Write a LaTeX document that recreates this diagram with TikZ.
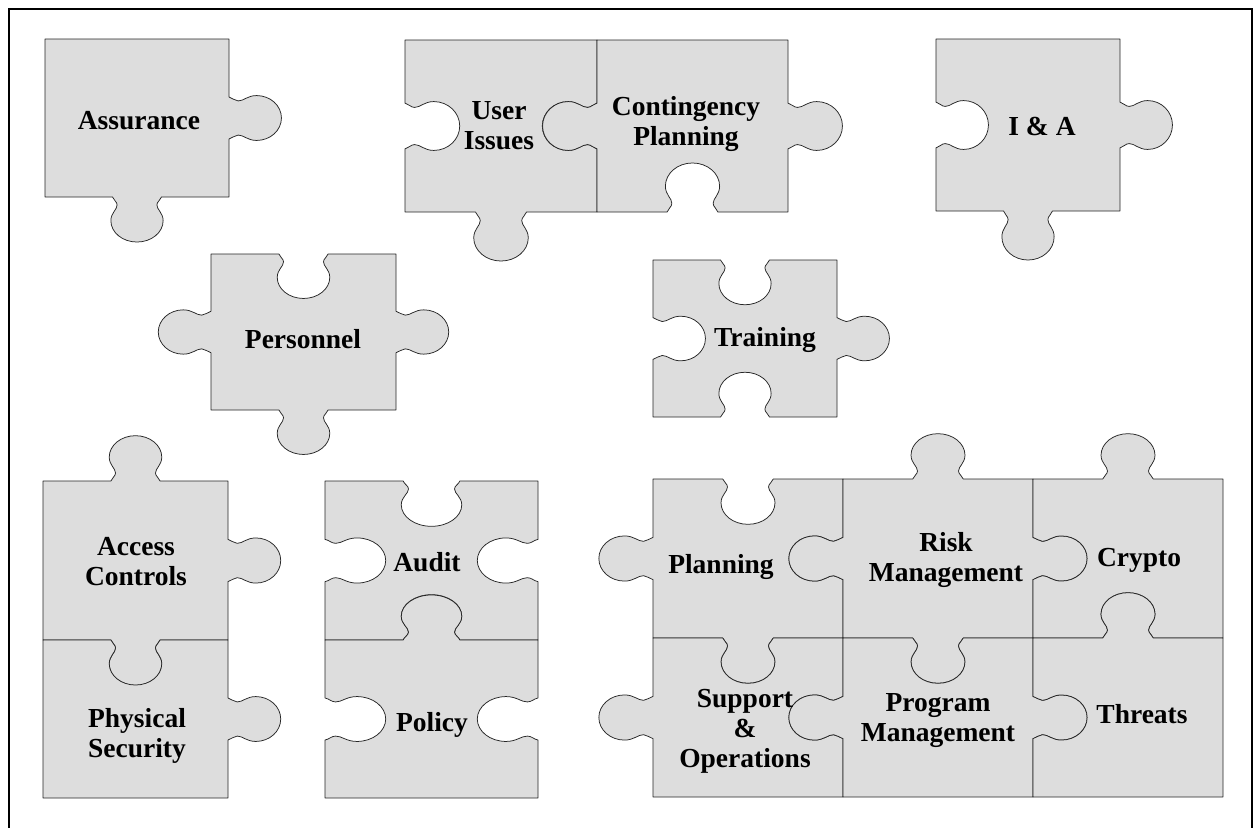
\documentclass[tikz,border=0pt]{standalone}
\usepackage{fontspec}
\setmainfont{Liberation Serif}
\definecolor{piecegray}{RGB}{221,221,221}
\tikzstyle{piece}=[fill=piecegray, draw=black!85, line width=0.75pt, line join=round]
\tikzstyle{pztext}=[font=\bfseries\fontsize{27.5}{30}\selectfont, align=center, inner sep=0pt]
\tikzset{
  pzside/.style n args={3}{pzat/.style={shift={#1}, rotate=#2, yscale=#3}, insert path={
      -- ([pzat]-0.133,0) .. controls ([pzat]-0.128,-0.02) and ([pzat]-0.108,-0.03) .. ([pzat]-0.108,-0.05)
      .. controls ([pzat]-0.108,-0.08) and ([pzat]-0.142,-0.10) .. ([pzat]-0.142,-0.15)
      .. controls ([pzat]-0.142,-0.225) and ([pzat]-0.078,-0.285) .. ([pzat]0,-0.285)
      .. controls ([pzat]0.078,-0.285) and ([pzat]0.142,-0.225) .. ([pzat]0.142,-0.15)
      .. controls ([pzat]0.142,-0.10) and ([pzat]0.108,-0.08) .. ([pzat]0.108,-0.05)
      .. controls ([pzat]0.108,-0.03) and ([pzat]0.128,-0.02) .. ([pzat]0.133,0)}},
  pzout/.style 2 args={pzside={#1}{#2}{1}},
  pzin/.style 2 args={pzside={#1}{#2}{-1}},
  pzflat/.style 2 args={},
}
% \piece{x,y}{w}{h}{top}{right}{bottom}{left}
\newcommand{\piece}[7]{%
  \path[piece, shift={(#1)}, xscale=#2, yscale=#3]
    (0,0) [#4={(0.5,0)}{0}] -- (1,0) [#5={(1,0.5)}{90}] -- (1,1)
    [#6={(0.5,1)}{180}] -- (0,1) [#7={(0,0.5)}{270}] -- cycle;}

\begin{document}
\begin{tikzpicture}[x=1pt, y=1pt, yscale=-1]
    \useasboundingbox (0,0) rectangle (1255,827);
    \draw[line width=2.6pt] (9,9) rectangle (1252,850);
    % top row
    \piece{45,39}{184}{158}{pzflat}{pzout}{pzout}{pzflat}
    \piece{405,40}{192}{172}{pzflat}{pzin}{pzout}{pzin}
    \piece{597,40}{191}{172}{pzflat}{pzout}{pzin}{pzout}
    \piece{936,39}{184}{172}{pzflat}{pzout}{pzout}{pzin}
    \node[pztext] (Assurance) at (139,121) {Assurance};
    \node[pztext] (UserIss) at (499,126) {User\\Issues};
    \node[pztext] (Conting) at (686,124) {Contingency\\Planning};
    \node[pztext] (IA) at (1042,126) {I \& A};
    % middle row
    \piece{211,254}{185}{156}{pzin}{pzout}{pzout}{pzout}
    \piece{653,260}{184}{157}{pzin}{pzout}{pzin}{pzin}
    \node[pztext] (Personnel) at (303,339) {Personnel};
    \node[pztext] (Training) at (765,340) {Training};
    % bottom left
    \piece{43,481}{185}{159}{pzout}{pzout}{pzout}{pzflat}
    \piece{43,640}{185}{158}{pzin}{pzout}{pzflat}{pzflat}
    \piece{325,481}{213}{159}{pzin}{pzin}{pzin}{pzin}
    \piece{325,640}{213}{158}{pzout}{pzin}{pzflat}{pzin}
    \node[pztext] (Access) at (136,562) {Access\\Controls};
    \node[pztext] (Physical) at (137,736) {Physical\\Security};
    \node[pztext] (Audit) at (427,562) {Audit};
    \node[pztext] (Policy) at (432,725) {Policy};
    % bottom right block
    \piece{653,479}{190}{159}{pzin}{pzin}{pzout}{pzout}
    \piece{843,479}{190}{159}{pzout}{pzout}{pzout}{pzout}
    \piece{1033,479}{190}{159}{pzout}{pzflat}{pzin}{pzin}
    \piece{653,638}{190}{159}{pzin}{pzin}{pzflat}{pzout}
    \piece{843,638}{190}{159}{pzin}{pzout}{pzflat}{pzout}
    \piece{1033,638}{190}{159}{pzout}{pzflat}{pzflat}{pzin}
    \node[pztext] (Planning) at (721,567) {Planning};
    \node[pztext] (Risk) at (946,560) {Risk\\Management};
    \node[pztext] (Crypto) at (1139,560) {Crypto};
    \node[pztext] (Support) at (745,731) {Support\\\&\\Operations};
    \node[pztext] (Program) at (938,721) {Program\\Management};
    \node[pztext] (Threats) at (1142,714) {Threats};
\end{tikzpicture}
\end{document}
